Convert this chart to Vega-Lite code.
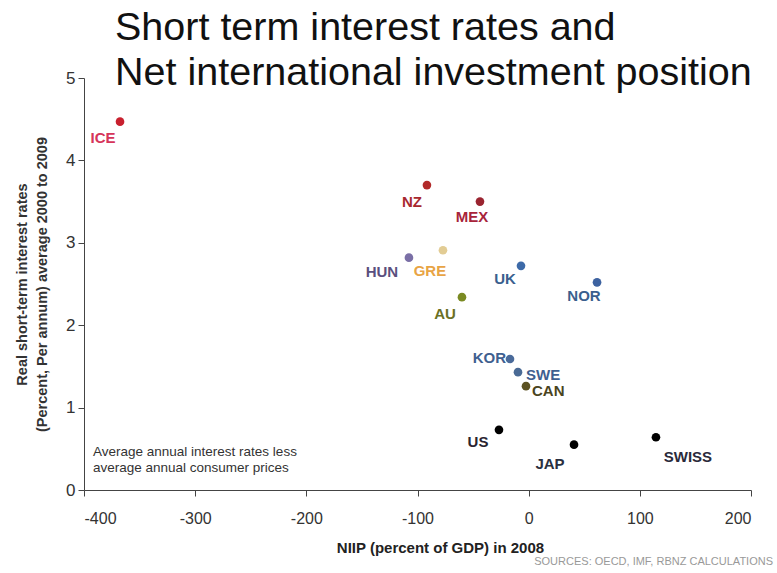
{
  "$schema": "https://vega.github.io/schema/vega-lite/v6.json",
  "width": 667,
  "height": 412,
  "autosize": {"type": "none"},
  "padding": {"left": 84, "top": 78, "right": 26, "bottom": 83},
  "background": "white",
  "title": {
    "text": ["Short term interest rates and", "Net international investment position"],
    "anchor": "start",
    "frame": "group",
    "orient": "top",
    "baseline": "alphabetic",
    "offset": 30,
    "dx": 31,
    "dy": 85,
    "font": "Liberation Sans",
    "fontSize": 39.5,
    "fontWeight": "normal",
    "lineHeight": 45,
    "color": "#111111"
  },
  "config": {
    "view": {"stroke": null},
    "font": "Liberation Sans",
    "axis": {
      "grid": false,
      "domainColor": "#444444",
      "tickColor": "#444444",
      "labelColor": "#333333",
      "labelFont": "Liberation Sans",
      "titleFont": "Liberation Sans",
      "tickSize": 6
    }
  },
  "datasets": {
    "countries": [
      {"country": "ICE", "niip": -367.6, "rate": 4.47},
      {"country": "NZ", "niip": -91.5, "rate": 3.70},
      {"country": "MEX", "niip": -43.8, "rate": 3.50},
      {"country": "GRE", "niip": -77.1, "rate": 2.91},
      {"country": "HUN", "niip": -107.7, "rate": 2.82},
      {"country": "UK", "niip": -6.9, "rate": 2.72},
      {"country": "NOR", "niip": 61.5, "rate": 2.52},
      {"country": "AU", "niip": -60.0, "rate": 2.34},
      {"country": "KOR", "niip": -16.8, "rate": 1.59},
      {"country": "SWE", "niip": -9.6, "rate": 1.43},
      {"country": "CAN", "niip": -2.4, "rate": 1.26},
      {"country": "US", "niip": -26.7, "rate": 0.73},
      {"country": "JAP", "niip": 40.8, "rate": 0.55},
      {"country": "SWISS", "niip": 114.5, "rate": 0.64}
    ],
    "notes": [
      {"kind": "note", "niip": -391.9, "rate": 0.465, "label": "Average annual interest rates less\naverage annual consumer prices"},
      {"kind": "source", "niip": 219.8, "rate": -0.874, "label": "SOURCES: OECD, IMF, RBNZ CALCULATIONS"}
    ]
  },
  "resolve": {"scale": {"color": "independent"}},
  "layer": [
    {
      "data": {"name": "countries"},
      "mark": {"type": "point", "filled": true, "size": 75, "opacity": 1},
      "encoding": {
        "x": {
          "field": "niip", "type": "quantitative",
          "scale": {"domain": [-400, 200], "nice": false, "zero": false},
          "axis": {
            "values": [-400, -300, -200, -100, 0, 100, 200],
            "labelExpr": "'' + datum.value",
            "labelFontSize": 16,
            "labelPadding": 14,
            "title": "NIIP (percent of GDP) in 2008",
            "titleFontSize": 15,
            "titleFontWeight": "bold",
            "titleColor": "#222222",
            "titleX": 356,
            "titlePadding": 14
          }
        },
        "y": {
          "field": "rate", "type": "quantitative",
          "scale": {"domain": [0, 5], "nice": false},
          "axis": {
            "values": [0, 1, 2, 3, 4, 5],
            "labelExpr": "'' + datum.value",
            "labelFontSize": 17,
            "labelPadding": 3,
            "title": ["Real short-term interest rates", "(Percent, Per annum) average 2000 to 2009"],
            "titleFontSize": 14.5,
            "titleFontWeight": "bold",
            "titleColor": "#333333",
            "titleLineHeight": 20,
            "titlePadding": 16
          }
        },
        "color": {
          "field": "country", "type": "nominal", "legend": null,
          "scale": {
            "domain": ["ICE", "NZ", "MEX", "GRE", "HUN", "UK", "NOR", "AU", "KOR", "SWE", "CAN", "US", "JAP", "SWISS"],
            "range": ["#c8202e", "#b22a2a", "#9a2430", "#e2cc94", "#7a6fa6", "#3d6aa8", "#3d62a0", "#7a8a22", "#4a6a9a", "#4a6a95", "#5c5222", "#000000", "#000000", "#000000"]
          }
        }
      }
    },
    {
      "data": {"name": "countries"},
      "encoding": {
        "x": {"field": "niip", "type": "quantitative"},
        "y": {"field": "rate", "type": "quantitative"},
        "text": {"field": "country"},
        "color": {
          "field": "country", "type": "nominal", "legend": null,
          "scale": {
            "domain": ["ICE", "NZ", "MEX", "GRE", "HUN", "UK", "NOR", "AU", "KOR", "SWE", "CAN", "US", "JAP", "SWISS"],
            "range": ["#d6355a", "#a8282e", "#a8243a", "#e8a445", "#5a4f7e", "#3a5f8e", "#3a5f8e", "#6b7024", "#3f6090", "#3f6090", "#4a4420", "#2a2430", "#2a3040", "#2a2a3a"]
          }
        }
      },
      "layer": [
        {"transform": [{"filter": "datum.country === 'ICE'"}], "mark": {"type": "text", "fontWeight": "bold", "fontSize": 15, "baseline": "middle", "align": "center", "dx": -17, "dy": 16}},
        {"transform": [{"filter": "datum.country === 'NZ'"}], "mark": {"type": "text", "fontWeight": "bold", "fontSize": 15, "baseline": "middle", "align": "center", "dx": -15, "dy": 17}},
        {"transform": [{"filter": "datum.country === 'MEX'"}], "mark": {"type": "text", "fontWeight": "bold", "fontSize": 15, "baseline": "middle", "align": "center", "dx": -8, "dy": 15}},
        {"transform": [{"filter": "datum.country === 'GRE'"}], "mark": {"type": "text", "fontWeight": "bold", "fontSize": 15, "baseline": "middle", "align": "center", "dx": -13, "dy": 21}},
        {"transform": [{"filter": "datum.country === 'HUN'"}], "mark": {"type": "text", "fontWeight": "bold", "fontSize": 15, "baseline": "middle", "align": "center", "dx": -27, "dy": 14}},
        {"transform": [{"filter": "datum.country === 'UK'"}], "mark": {"type": "text", "fontWeight": "bold", "fontSize": 15, "baseline": "middle", "align": "center", "dx": -16, "dy": 13}},
        {"transform": [{"filter": "datum.country === 'NOR'"}], "mark": {"type": "text", "fontWeight": "bold", "fontSize": 15, "baseline": "middle", "align": "center", "dx": -13, "dy": 14}},
        {"transform": [{"filter": "datum.country === 'AU'"}], "mark": {"type": "text", "fontWeight": "bold", "fontSize": 15, "baseline": "middle", "align": "center", "dx": -17, "dy": 17}},
        {"transform": [{"filter": "datum.country === 'KOR'"}], "mark": {"type": "text", "fontWeight": "bold", "fontSize": 15, "baseline": "middle", "align": "right", "dx": -4, "dy": -1}},
        {"transform": [{"filter": "datum.country === 'SWE'"}], "mark": {"type": "text", "fontWeight": "bold", "fontSize": 15, "baseline": "middle", "align": "left", "dx": 8, "dy": 3}},
        {"transform": [{"filter": "datum.country === 'CAN'"}], "mark": {"type": "text", "fontWeight": "bold", "fontSize": 15, "baseline": "middle", "align": "left", "dx": 6, "dy": 5}},
        {"transform": [{"filter": "datum.country === 'US'"}], "mark": {"type": "text", "fontWeight": "bold", "fontSize": 15, "baseline": "middle", "align": "center", "dx": -21, "dy": 12}},
        {"transform": [{"filter": "datum.country === 'JAP'"}], "mark": {"type": "text", "fontWeight": "bold", "fontSize": 15, "baseline": "middle", "align": "center", "dx": -24, "dy": 19}},
        {"transform": [{"filter": "datum.country === 'SWISS'"}], "mark": {"type": "text", "fontWeight": "bold", "fontSize": 15, "baseline": "middle", "align": "center", "dx": 32, "dy": 20}}
      ]
    },
    {
      "data": {"name": "notes"},
      "transform": [{"filter": "datum.kind === 'note'"}],
      "mark": {"type": "text", "align": "left", "baseline": "middle", "fontSize": 13.5, "lineHeight": 16, "lineBreak": "\n", "color": "#333333"},
      "encoding": {
        "x": {"field": "niip", "type": "quantitative"},
        "y": {"field": "rate", "type": "quantitative"},
        "text": {"field": "label"}
      }
    },
    {
      "data": {"name": "notes"},
      "transform": [{"filter": "datum.kind === 'source'"}],
      "mark": {"type": "text", "align": "right", "baseline": "middle", "fontSize": 11, "color": "#999999"},
      "encoding": {
        "x": {"field": "niip", "type": "quantitative"},
        "y": {"field": "rate", "type": "quantitative"},
        "text": {"field": "label"}
      }
    }
  ]
}
